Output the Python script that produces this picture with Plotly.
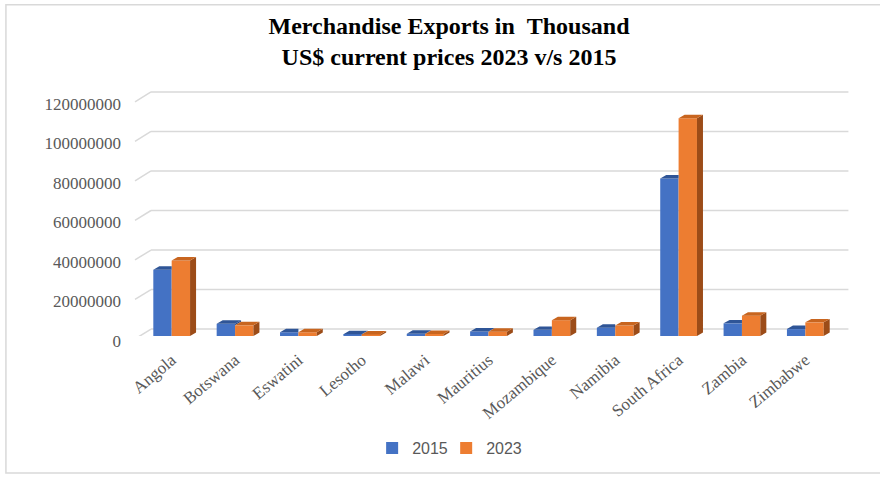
import numpy as np
import plotly.graph_objects as go

# Merchandise exports (thousand US$, current prices)
countries = ["Angola", "Botswana", "Eswatini", "Lesotho", "Malawi", "Mauritius",
             "Mozambique", "Namibia", "South Africa", "Zambia", "Zimbabwe"]
exports_2015 = [33500000, 6200000, 1900000, 900000, 1100000, 2300000,
                3100000, 4200000, 79700000, 6400000, 3500000]
exports_2023 = [38200000, 5400000, 1900000, 800000, 1000000, 2200000,
                8000000, 5300000, 110200000, 10300000, 6900000]
y_ticks = [0, 20000000, 40000000, 60000000, 80000000, 100000000, 120000000]
series_names = ["2015", "2023"]

BLUE, BLUE_TOP, BLUE_SIDE = "#4472C4", "#2F5597", "#2A4C88"
ORANGE, ORANGE_TOP, ORANGE_SIDE = "#ED7D31", "#C8651F", "#9C4C18"
GRID = "#D9D9D9"
TEXT = "#595959"

# layout geometry (pixels)
W_FIG, H_FIG = 880, 477
L, R, T, B = 140, 43.4, 89, 139
PLOT_W = W_FIG - L - R
PLOT_H = H_FIG - T - B
Y_MAX = 125e6
PX_PER_UNIT = PLOT_H / Y_MAX

BW = 0.29                    # bar width (category units)
DX = 6 / (PLOT_W / 11)       # depth offset, x (category units)
DY = 3.5 / PX_PER_UNIT       # depth offset, y (value units)

xs = np.arange(len(countries))


def px_to_paper_x(px):
    return (px - L) / PLOT_W


def px_to_paper_y(py):
    return (H_FIG - B - py) / PLOT_H


fig = go.Figure()

# front faces of the columns (one legend box per series)
fig.add_bar(x=xs, y=exports_2015, width=BW, offset=-BW, name=series_names[0],
            legend="legend", marker=dict(color=BLUE, line=dict(width=0)))
fig.add_bar(x=xs, y=exports_2023, width=BW, offset=0, name=series_names[1],
            legend="legend2", marker=dict(color=ORANGE, line=dict(width=0)))


def poly_trace(polys, color):
    px_, py_ = [], []
    for p in polys:
        for (a, b) in p:
            px_.append(a)
            py_.append(b)
        px_.append(p[0][0])
        py_.append(p[0][1])
        px_.append(None)
        py_.append(None)
    return go.Scatter(x=px_, y=py_, mode="lines", fill="toself", fillcolor=color,
                      line=dict(width=0, color=color), showlegend=False,
                      hoverinfo="skip")


# depth faces for the 2015 columns (only what stays visible beside 2023)
blue_side, blue_top = [], []
for c, b, o in zip(xs, exports_2015, exports_2023):
    if b > o:
        blue_side.append([(c, o), (c, b), (c + DX, b + DY), (c + DX, o + DY)])
        blue_top.append([(c - BW, b), (c, b), (c + DX, b + DY), (c - BW + DX, b + DY)])
    else:
        blue_top.append([(c - BW, b), (c, b), (c, b + DY), (c - BW + DX, b + DY)])

orange_side, orange_top = [], []
for c, o in zip(xs, exports_2023):
    orange_side.append([(c + BW, 0), (c + BW, o), (c + BW + DX, o + DY), (c + BW + DX, DY)])
    orange_top.append([(c, o), (c + BW, o), (c + BW + DX, o + DY), (c + DX, o + DY)])

if blue_side:
    fig.add_trace(poly_trace(blue_side, BLUE_SIDE))
fig.add_trace(poly_trace(blue_top, BLUE_TOP))
fig.add_trace(poly_trace(orange_side, ORANGE_SIDE))
fig.add_trace(poly_trace(orange_top, ORANGE_TOP))

# back-wall gridlines with their floor connectors
shapes = []
x_front, x_back, x_end = px_to_paper_x(135), px_to_paper_x(151), px_to_paper_x(848)
back_shift = 7 / PX_PER_UNIT
front_shift = 3 / PX_PER_UNIT
for v in y_ticks:
    shapes.append(dict(type="line", xref="paper", yref="y", layer="below",
                       x0=x_front, y0=v - front_shift, x1=x_back, y1=v + back_shift,
                       line=dict(color=GRID, width=1.5)))
    shapes.append(dict(type="line", xref="paper", yref="y", layer="below",
                       x0=x_back, y0=v + back_shift, x1=x_end, y1=v + back_shift,
                       line=dict(color=GRID, width=1.5)))

# chart frame
shapes.append(dict(type="rect", xref="paper", yref="paper", layer="below",
                   x0=px_to_paper_x(6), x1=px_to_paper_x(900),
                   y0=px_to_paper_y(476), y1=px_to_paper_y(4),
                   line=dict(color=GRID, width=1.5), fillcolor="rgba(0,0,0,0)"))

legend_style = dict(
    orientation="h", xanchor="left", yanchor="middle", y=px_to_paper_y(451),
    itemwidth=30, bgcolor="rgba(0,0,0,0)",
    font=dict(family="Liberation Sans", size=16, color=TEXT),
)

fig.update_layout(
    width=W_FIG, height=H_FIG,
    margin=dict(l=L, r=R, t=T, b=B),
    paper_bgcolor="white", plot_bgcolor="white",
    barmode="overlay",
    shapes=shapes,
    title=dict(
        text="Merchandise Exports in\u00a0\u00a0Thousand<br>US$ current prices 2023 v/s 2015",
        font=dict(family="Liberation Serif", size=24, color="#000000", weight="bold"),
        x=449 / W_FIG, xanchor="center", xref="container",
        y=1 - 34 / H_FIG, yanchor="top", yref="container",
    ),
    xaxis=dict(
        range=[-0.5, 10.5], tickmode="array", tickvals=xs, ticktext=countries,
        tickangle=-40, showgrid=False, zeroline=False, showline=False, ticks="",
        ticklabelstandoff=10,
        tickfont=dict(family="Liberation Serif", size=17, color=TEXT),
    ),
    yaxis=dict(
        range=[0, Y_MAX], tickmode="array", tickvals=y_ticks,
        ticktext=[str(v) for v in y_ticks],
        showgrid=False, zeroline=False, showline=False, ticks="",
        ticklabelstandoff=18, ticklabelshift=5,
        tickfont=dict(family="Liberation Serif", size=17, color=TEXT),
    ),
    legend=dict(x=px_to_paper_x(372), **legend_style),
    legend2=dict(x=px_to_paper_x(446), **legend_style),
    showlegend=True,
)

fig.write_html("out.html")
